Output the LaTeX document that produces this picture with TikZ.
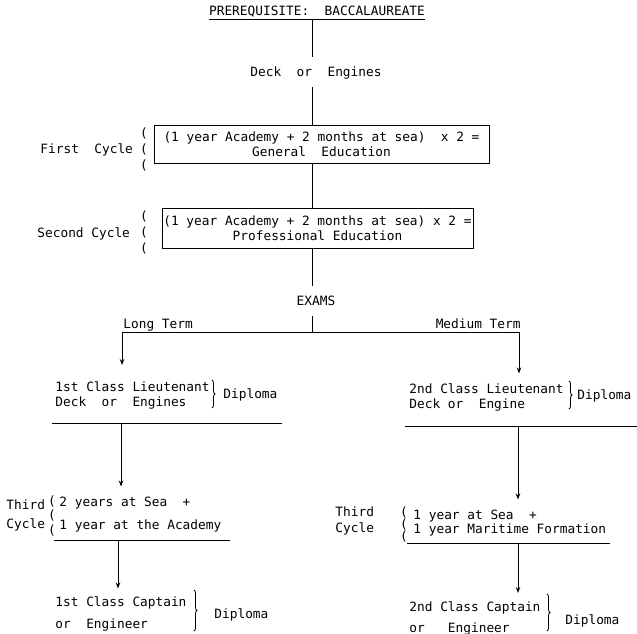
\documentclass[tikz,border=0pt]{standalone}
\usepackage{fontspec}
\setmainfont{DejaVu Sans Mono}
\usetikzlibrary{arrows.meta,decorations.pathreplacing}

\tikzset{
  txt/.style={inner sep=0pt, text height=9pt, text depth=0pt},
  lines/.style={inner sep=0pt, align=left, anchor=north west},
  course/.style={draw, rectangle, align=center, inner sep=1pt},
  curly/.style={decorate, decoration={brace, amplitude=3pt}, line width=0.8pt},
}

\begin{document}
\begin{tikzpicture}[x=1pt, y=-1pt, line width=0.9pt, >={Stealth[length=6pt,width=4.5pt]},
    font=\fontsize{12.8}{15}\selectfont]
  \useasboundingbox (0,0) rectangle (637,634);
  \coordinate (trunk) at (312,0);

  % Prerequisite
  \node[txt, inner ysep=3.5pt] (prereq) at (317,11) {PREREQUISITE:~~BACCALAUREATE};
  \draw (prereq.south west) -- (prereq.south east);
  \node[txt, inner ysep=10pt] (deck) at (316,72) {Deck~~or~~Engines};

  % First cycle
  \node[course, minimum width=335pt, minimum height=38pt] (gen) at (321.5,144)
    {(1 year Academy + 2 months at sea)~~x 2 =\\General~~Education};
  \node[txt, anchor=west] (first) at (40,149) {First~~Cycle};
  \foreach \y [count=\i] in {133,149,165}
    \node[txt] (pa\i) at (144,\y) {(};

  % Second cycle
  \node[course, minimum width=311pt, minimum height=40pt] (prof) at (317.5,228)
    {(1 year Academy + 2 months at sea) x 2 =\\Professional Education};
  \node[txt, anchor=west] (second) at (37,233) {Second Cycle};
  \foreach \y [count=\i] in {216,232,248}
    \node[txt] (pb\i) at (144,\y) {(};

  \node[txt, inner ysep=10pt] (exams) at (316,301) {EXAMS};

  % Trunk
  \draw (prereq.south -| trunk) -- (deck.north -| trunk);
  \draw (deck.south -| trunk) -- (gen.north -| trunk);
  \draw (gen.south -| trunk) -- (prof.north -| trunk);
  \draw (prof.south -| trunk) -- (exams.north -| trunk);

  % Branches
  \coordinate (split) at (312,332);
  \coordinate (long) at (122,332);
  \coordinate (medium) at (519,332);
  \draw (exams.south -| split) -- (split);
  \draw (long) -- (medium);
  \node[txt, anchor=west] (lt) at (123,324) {Long Term};
  \node[txt, anchor=east] (mt) at (521,324) {Medium Term};

  % Long term
  \node[lines] (lieutA) at (55,381) {1st Class Lieutenant\\Deck~~or~~Engines};
  \draw[->, shorten >=16pt] (long) -- (long |- lieutA.north);
  \draw[curly] (212,380) -- (212,408);
  \node[txt, anchor=west] (dipA) at (223,394) {Diploma};
  \coordinate (barAl) at (52,423);
  \coordinate (barAr) at (282,423);
  \coordinate (downA) at (121,423);
  \draw (barAl) -- (barAr);
  \node[lines, font=\fontsize{12.8}{19}\selectfont] (thirdA) at (6,499.5) {Third\\Cycle};
  \foreach \y [count=\i] in {501,515,530}
    \node[txt] (pc\i) at (52,\y) {(};
  \node[lines, font=\fontsize{12.8}{23}\selectfont] (cycA) at (59,496.5)
    {2 years at Sea~~+\\1 year at the Academy};
  \draw[->, shorten >=10pt] (downA) -- (downA |- cycA.north);
  \coordinate (barCl) at (54,540);
  \coordinate (barCr) at (230,540);
  \coordinate (downC) at (118,540);
  \draw (barCl) -- (barCr);
  \node[lines, font=\fontsize{12.8}{22}\selectfont] (captA) at (55,596.5)
    {1st Class Captain\\or~~Engineer};
  \draw[->, shorten >=8pt] (downC) -- (downC |- captA.north);
  \draw[curly] (194,590) -- (194,631);
  \node[txt, anchor=west] (dipC) at (214,614) {Diploma};

  % Medium term
  \node[lines] (lieutB) at (409,383.5) {2nd Class Lieutenant\\Deck or~~Engine};
  \draw[->, shorten >=10pt] (medium) -- (medium |- lieutB.north);
  \draw[curly] (569,381) -- (569,409);
  \node[txt, anchor=west] (dipB) at (577,395) {Diploma};
  \coordinate (barBl) at (405,426);
  \coordinate (barBr) at (637,426);
  \coordinate (downB) at (518,426);
  \draw (barBl) -- (barBr);
  \node[lines, font=\fontsize{12.8}{16}\selectfont] (thirdB) at (335,506.5) {Third\\Cycle};
  \foreach \y [count=\i] in {512,524,536}
    \node[txt] (pd\i) at (404,\y) {(};
  \node[lines, font=\fontsize{12.8}{14}\selectfont] (cycB) at (413,509.5)
    {1 year at Sea~~+\\1 year Maritime Formation};
  \draw[->, shorten >=10pt] (downB) -- (downB |- cycB.north);
  \coordinate (barDl) at (407,543);
  \coordinate (barDr) at (610,543);
  \coordinate (downD) at (518,543);
  \draw (barDl) -- (barDr);
  \node[lines, font=\fontsize{12.8}{21}\selectfont] (captB) at (409,601)
    {2nd Class Captain\\or~~~Engineer};
  \draw[->, shorten >=8pt] (downD) -- (downD |- captB.north);
  \draw[curly] (547,594) -- (547,631);
  \node[txt, anchor=west] (dipD) at (565,620) {Diploma};
\end{tikzpicture}
\end{document}
